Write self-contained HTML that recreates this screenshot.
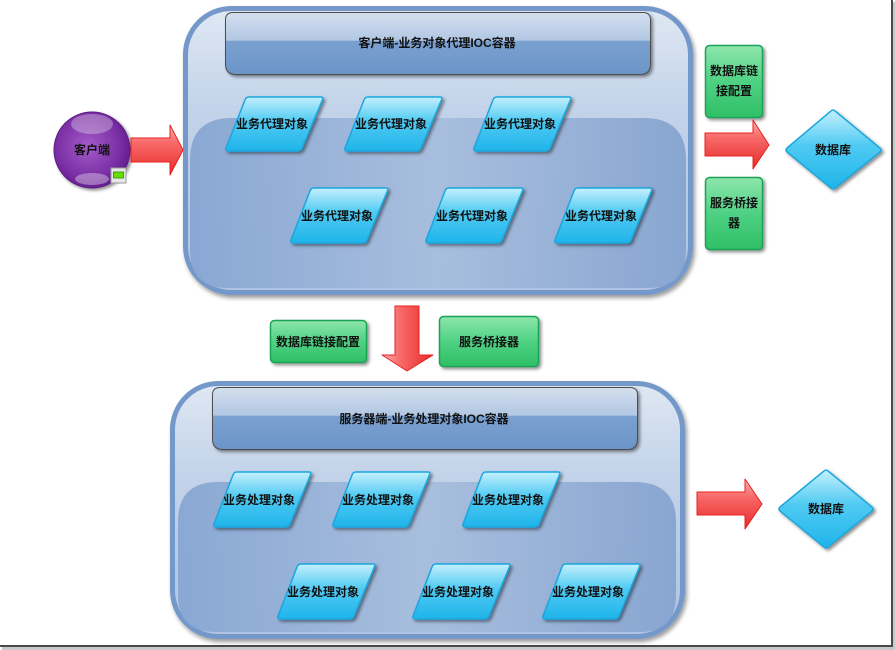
<!DOCTYPE html>
<html><head><meta charset="utf-8"><style>
html,body{margin:0;padding:0;background:#fff;}
svg{display:block;}
text{font-family:"Liberation Sans","Noto Sans CJK SC",sans-serif;font-weight:bold;font-size:12px;fill:#111;text-anchor:middle;}
</style></head><body>
<svg width="895" height="650" viewBox="0 0 895 650" xmlns="http://www.w3.org/2000/svg">
<defs>
  <filter id="sh" x="-20%" y="-20%" width="150%" height="150%">
    <feDropShadow dx="2" dy="2" stdDeviation="1.5" flood-color="#000" flood-opacity="0.45"/>
  </filter>
  <filter id="sh2" x="-10%" y="-10%" width="130%" height="140%">
    <feDropShadow dx="2" dy="3" stdDeviation="2" flood-color="#000" flood-opacity="0.4"/>
  </filter>
  <linearGradient id="cont" x1="0" y1="0" x2="0" y2="1">
    <stop offset="0" stop-color="#dfe8f4"/>
    <stop offset="0.35" stop-color="#c3d3e9"/>
    <stop offset="1" stop-color="#aec4e2"/>
  </linearGradient>
  <linearGradient id="inner" x1="0" y1="0" x2="1" y2="0">
    <stop offset="0" stop-color="#87a6d2"/>
    <stop offset="0.5" stop-color="#a7bddd"/>
    <stop offset="1" stop-color="#86a4d0"/>
  </linearGradient>
  <linearGradient id="hdr" x1="0" y1="0" x2="0" y2="1">
    <stop offset="0" stop-color="#d3dfee"/>
    <stop offset="0.45" stop-color="#b2c7e3"/>
    <stop offset="0.46" stop-color="#7aa0cf"/>
    <stop offset="1" stop-color="#6b95c8"/>
  </linearGradient>
  <linearGradient id="cy" x1="0" y1="0" x2="0" y2="1">
    <stop offset="0" stop-color="#c4f0fd"/>
    <stop offset="0.45" stop-color="#4fcaf2"/>
    <stop offset="1" stop-color="#1fb4ea"/>
  </linearGradient>
  <linearGradient id="gr" x1="0" y1="0" x2="0" y2="1">
    <stop offset="0" stop-color="#8ee6ae"/>
    <stop offset="0.5" stop-color="#4fd183"/>
    <stop offset="1" stop-color="#2fbf66"/>
  </linearGradient>
  <linearGradient id="rd" x1="0" y1="0" x2="0" y2="1">
    <stop offset="0" stop-color="#ffb0b0"/>
    <stop offset="0.35" stop-color="#f86a6a"/>
    <stop offset="1" stop-color="#e82a2a"/>
  </linearGradient>
  <linearGradient id="rdv" x1="0" y1="0" x2="1" y2="0">
    <stop offset="0" stop-color="#ffb0b0"/>
    <stop offset="0.35" stop-color="#f86a6a"/>
    <stop offset="1" stop-color="#e82a2a"/>
  </linearGradient>
  <radialGradient id="pur" cx="0.45" cy="0.45" r="0.6">
    <stop offset="0" stop-color="#a35bc8"/>
    <stop offset="0.7" stop-color="#7a2fa4"/>
    <stop offset="1" stop-color="#5c1a86"/>
  </radialGradient>
</defs>

<!-- frame -->
<rect x="893" y="2" width="2" height="648" fill="#c8c8c8"/>
<rect x="2" y="647" width="893" height="3" fill="#c8c8c8"/>
<rect x="891" y="0" width="2" height="647" fill="#4a4a4a"/>
<rect x="0" y="645" width="893" height="2" fill="#4a4a4a"/>

<!-- ============ TOP CONTAINER ============ -->
<g filter="url(#sh2)">
<rect x="185.5" y="8.5" width="505" height="284" rx="46" fill="url(#cont)" stroke="#7398c9" stroke-width="5"/>
</g>
<path d="M190 160 Q190 118 232 118 L644 118 Q686 118 686 160 L686 250 Q686 288 648 288 L228 288 Q190 288 190 250 Z" fill="url(#inner)" opacity="0.95"/>
<g filter="url(#sh)">
<path d="M225.5 20 Q225.5 12.5 233 12.5 L643 12.5 Q650.5 12.5 650.5 20 L650.5 64 Q650.5 74.5 640 74.5 L236 74.5 Q225.5 74.5 225.5 64 Z" fill="url(#hdr)" stroke="#4d4d4d" stroke-width="1"/>
</g>
<text x="437" y="47">客户端-业务对象代理IOC容器</text>

<!-- parallelograms top -->
<g filter="url(#sh)" stroke="#1aa6de" stroke-width="1.5" stroke-linejoin="round" fill="url(#cy)">
  <path d="M249 97 L321 97 Q324 97 322 101 L302 148 Q301 151 297 151 L229 151 Q225 151 226 148 L245 100 Q246 97 249 97 Z"/>
  <path d="M368 97 L440 97 Q443 97 441 101 L421 148 Q420 151 416 151 L348 151 Q344 151 345 148 L364 100 Q365 97 368 97 Z"/>
  <path d="M497 97 L569 97 Q572 97 570 101 L550 148 Q549 151 545 151 L477 151 Q473 151 474 148 L493 100 Q494 97 497 97 Z"/>
  <path d="M314 188 L386 188 Q389 188 387 192 L367 240 Q366 243 362 243 L294 243 Q290 243 291 240 L310 191 Q311 188 314 188 Z"/>
  <path d="M449 188 L521 188 Q524 188 522 192 L502 240 Q501 243 497 243 L429 243 Q425 243 426 240 L445 191 Q446 188 449 188 Z"/>
  <path d="M578 188 L650 188 Q653 188 651 192 L631 240 Q630 243 626 243 L558 243 Q554 243 555 240 L574 191 Q575 188 578 188 Z"/>
</g>
<text x="272" y="128">业务代理对象</text>
<text x="391" y="128">业务代理对象</text>
<text x="520" y="128">业务代理对象</text>
<text x="337" y="220">业务代理对象</text>
<text x="472" y="220">业务代理对象</text>
<text x="601" y="220">业务代理对象</text>

<!-- client circle -->
<g filter="url(#sh)">
<circle cx="92" cy="150" r="38" fill="url(#pur)" stroke="#5c1a86" stroke-width="1"/>
</g>
<ellipse cx="92" cy="124" rx="21" ry="10" fill="#fff" opacity="0.3"/>
<ellipse cx="92" cy="179" rx="17" ry="6" fill="#fff" opacity="0.35"/>
<text x="92" y="154">客户端</text>
<rect x="111" y="168" width="15" height="15" fill="#e6e6e6" stroke="#9a9a9a" stroke-width="1"/>
<rect x="113.5" y="172" width="10" height="6" fill="#66e000" stroke="#2f8a00" stroke-width="0.8"/>

<!-- left arrow -->
<path d="M131 138 L170 138 L170 125 L183 150 L170 175 L170 162 L131 162 Z" fill="url(#rd)" stroke="#e82020" stroke-width="1" stroke-linejoin="round"/>

<!-- right green boxes -->
<g filter="url(#sh)" stroke="#1ea356" stroke-width="1.5">
  <rect x="705.5" y="45.5" width="57" height="72" rx="4" fill="url(#gr)"/>
  <rect x="705.5" y="177.5" width="57" height="72" rx="4" fill="url(#gr)"/>
</g>
<text x="734" y="75">数据库链</text>
<text x="734" y="95">接配置</text>
<text x="734" y="207">服务桥接</text>
<text x="734" y="227">器</text>

<!-- right arrow top -->
<path d="M705 133 L753 133 L753 120 L769 145 L753 169 L753 156 L705 156 Z" fill="url(#rd)" stroke="#e82020" stroke-width="1" stroke-linejoin="round"/>

<!-- diamond top -->
<g filter="url(#sh)">
<path d="M787 148 L831 111 Q833 109 835 111 L880 148 Q882 150 880 152 L835 188 Q833 190 831 188 L787 152 Q785 150 787 148 Z" fill="url(#cy)" stroke="#1aa6de" stroke-width="1.5"/>
</g>
<text x="833" y="154">数据库</text>

<!-- ============ MIDDLE ============ -->
<g filter="url(#sh)" stroke="#1ea356" stroke-width="1.5">
  <rect x="270.5" y="320.5" width="96" height="42" rx="4" fill="url(#gr)"/>
  <rect x="439.5" y="316.5" width="99" height="50" rx="4" fill="url(#gr)"/>
</g>
<text x="318" y="346">数据库链接配置</text>
<text x="489" y="346">服务桥接器</text>
<path d="M395 306 L419 306 L419 355 L433 355 L407 371 L382 355 L395 355 Z" fill="url(#rdv)" stroke="#e82020" stroke-width="1" stroke-linejoin="round"/>

<!-- ============ BOTTOM CONTAINER ============ -->
<g filter="url(#sh2)">
<rect x="172.5" y="383.5" width="510" height="253" rx="46" fill="url(#cont)" stroke="#7398c9" stroke-width="5"/>
</g>
<path d="M178 522 Q178 482 218 482 L634 482 Q676 482 676 522 L676 595 Q676 632 640 632 L216 632 Q178 632 178 595 Z" fill="url(#inner)" opacity="0.95"/>
<g filter="url(#sh)">
<path d="M212.5 395 Q212.5 387.5 220 387.5 L630 387.5 Q637.5 387.5 637.5 395 L637.5 439 Q637.5 449.5 627 449.5 L223 449.5 Q212.5 449.5 212.5 439 Z" fill="url(#hdr)" stroke="#4d4d4d" stroke-width="1"/>
</g>
<text x="424" y="423">服务器端-业务处理对象IOC容器</text>

<g filter="url(#sh)" stroke="#1aa6de" stroke-width="1.5" stroke-linejoin="round" fill="url(#cy)">
  <path d="M237 472 L309 472 Q312 472 310 476 L290 524 Q289 527 285 527 L217 527 Q213 527 214 524 L233 475 Q234 472 237 472 Z"/>
  <path d="M356 472 L428 472 Q431 472 429 476 L409 524 Q408 527 404 527 L336 527 Q332 527 333 524 L352 475 Q353 472 356 472 Z"/>
  <path d="M486 472 L558 472 Q561 472 559 476 L539 524 Q538 527 534 527 L466 527 Q462 527 463 524 L482 475 Q483 472 486 472 Z"/>
  <path d="M301 564 L373 564 Q376 564 374 568 L354 616 Q353 619 349 619 L281 619 Q277 619 278 616 L297 567 Q298 564 301 564 Z"/>
  <path d="M436 564 L508 564 Q511 564 509 568 L489 616 Q488 619 484 619 L416 619 Q412 619 413 616 L432 567 Q433 564 436 564 Z"/>
  <path d="M566 564 L638 564 Q641 564 639 568 L619 616 Q618 619 614 619 L546 619 Q542 619 543 616 L562 567 Q563 564 566 564 Z"/>
</g>
<text x="259" y="504">业务处理对象</text>
<text x="378" y="504">业务处理对象</text>
<text x="508" y="504">业务处理对象</text>
<text x="323" y="596">业务处理对象</text>
<text x="458" y="596">业务处理对象</text>
<text x="588" y="596">业务处理对象</text>

<!-- bottom right arrow -->
<path d="M697 492 L745 492 L745 479 L762 504 L745 529 L745 515 L697 515 Z" fill="url(#rd)" stroke="#e82020" stroke-width="1" stroke-linejoin="round"/>

<!-- diamond bottom -->
<g filter="url(#sh)">
<path d="M780 507 L824 471 Q826 469 828 471 L872 507 Q874 509 872 511 L828 547 Q826 549 824 547 L780 511 Q778 509 780 507 Z" fill="url(#cy)" stroke="#1aa6de" stroke-width="1.5"/>
</g>
<text x="826" y="513">数据库</text>
</svg>
</body></html>
